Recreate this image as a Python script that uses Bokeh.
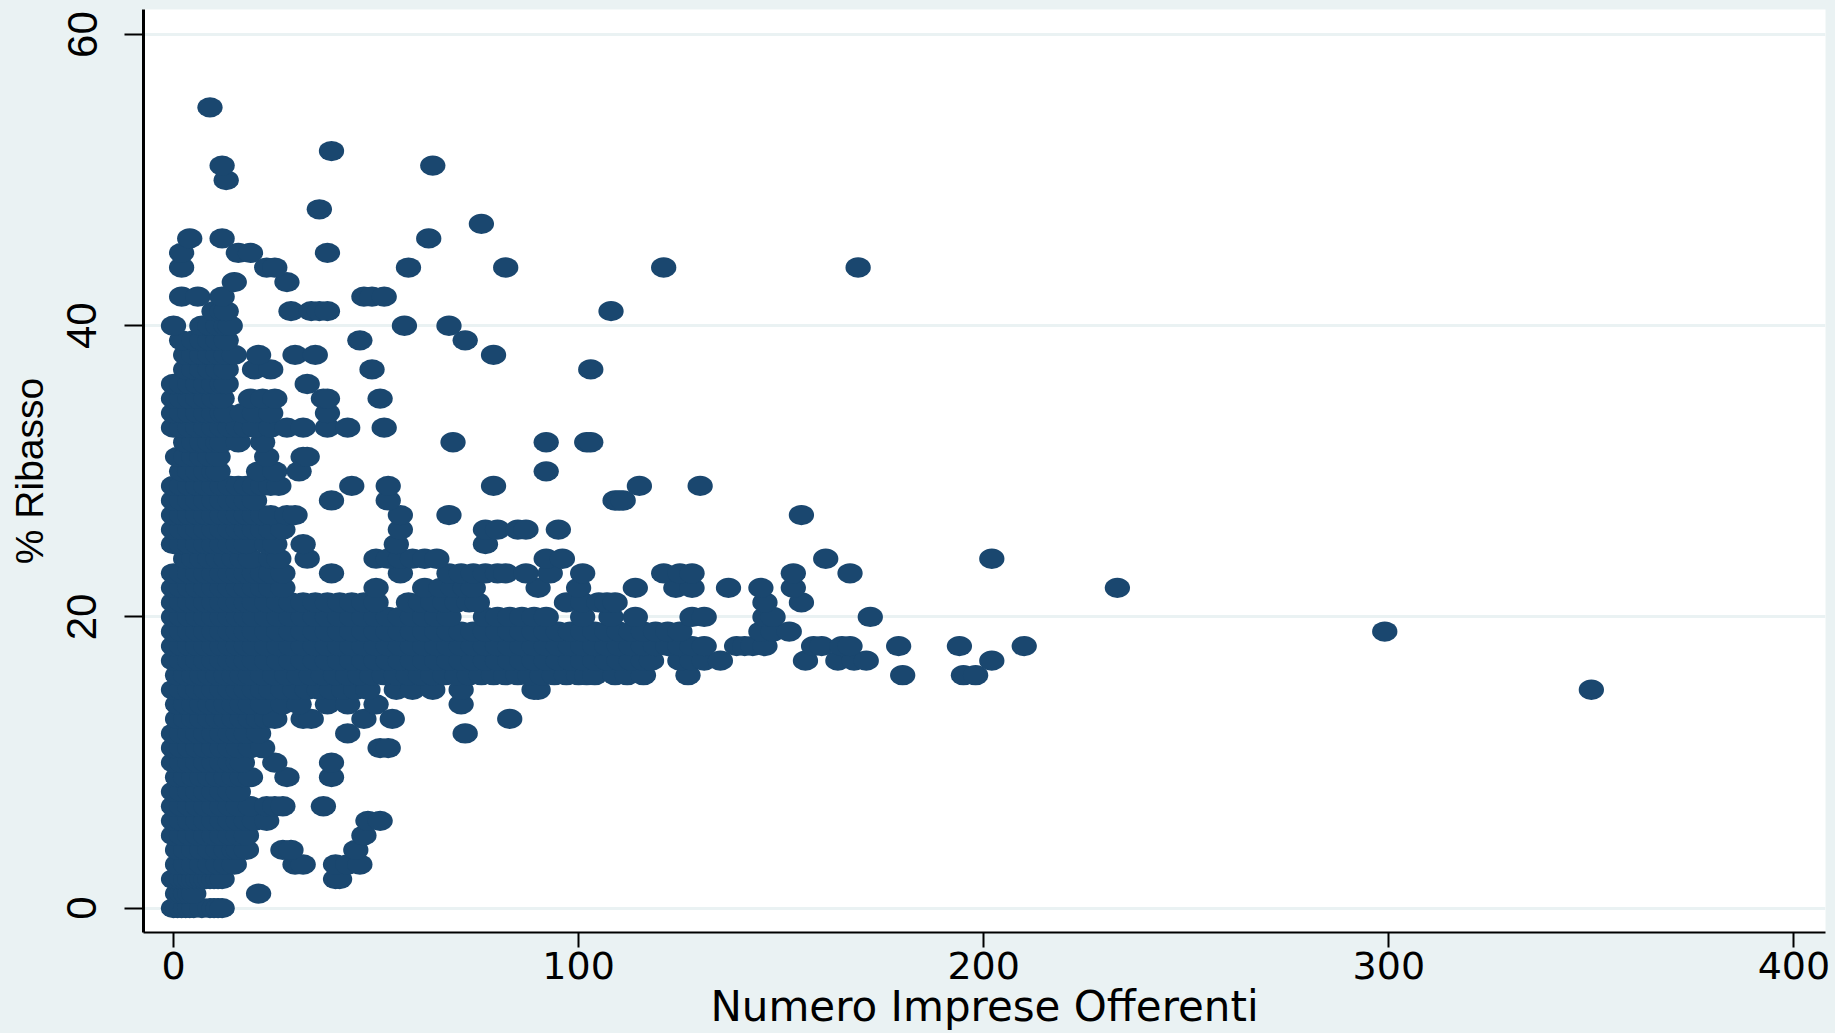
from bokeh.plotting import figure
from bokeh.models import FixedTicker, Range1d
from bokeh.embed import file_html
from bokeh.resources import INLINE

x_ticks = [0, 100, 200, 300, 400]
y_ticks = [0, 20, 40, 60]
x_label = "Numero Imprese Offerenti"
y_label = "% Ribasso"

# firms offering (x) at each whole-number discount level
r00 = [0, 1, 2, 3, 4, 5, 7, 9, 10, 11, 12]
r01 = [1, 2, 3, 4, 5, 21]
r02 = [0, 1, 2, 3, 4, 5, 6, 7, 8, 9, 10, 11, 12, 40, 41]
r03 = [1, 3, 5, 7, 9, 11, 13, 15, 30, 32, 40, 43, 46]
r04 = [1, 3, 5, 7, 9, 11, 13, 15, 16, 18, 27, 29, 45]
r05 = [0, 2, 4, 6, 8, 10, 12, 14, 16, 18, 47]
r06 = [0, 2, 4, 6, 8, 10, 12, 14, 16, 18, 20, 23, 48, 51]
r07 = [0, 2, 4, 6, 8, 10, 12, 14, 16, 19, 23, 25, 27, 37]
r08 = [0, 2, 4, 6, 8, 10, 12, 14, 16]
r09 = [1, 3, 5, 7, 9, 11, 13, 15, 17, 19, 28, 39]
r10 = [0, 2, 4, 6, 8, 10, 12, 14, 16, 17, 25, 39]
r11 = [0, 2, 4, 6, 8, 10, 12, 14, 16, 19, 22, 51, 53]
r12 = [0, 2, 4, 6, 8, 10, 12, 14, 16, 18, 21, 43, 72]
r13 = [1, 3, 5, 7, 9, 11, 13, 15, 17, 19, 21, 23, 25, 32, 34, 47, 54, 83]
r14 = [1, 3, 5, 7, 9, 11, 13, 15, 17, 19, 22, 27, 31, 38, 43, 50, 71]
r15 = [0, 2, 4, 6, 8, 10, 12, 14, 16, 18, 20, 22, 24, 27, 30, 33, 36, 39, 42, 45, 48, 55, 59, 64, 71, 89, 90, 350]
r16 = [1, 3, 5, 7, 9, 11, 13, 15, 17, 19, 22, 25, 28, 31, 34, 37, 40, 43, 46, 49, 52, 55, 58, 61, 64, 67, 70, 73, 76, 79, 82, 85, 88, 91, 94, 97, 100, 102, 104, 109, 112, 116, 127, 180, 195, 198]
r17 = [0, 2, 4, 6, 8, 10, 12, 14, 16, 18, 20, 23, 26, 29, 32, 35, 38, 41, 44, 47, 50, 53, 56, 59, 62, 65, 68, 71, 74, 77, 80, 83, 86, 89, 92, 95, 98, 101, 104, 107, 110, 113, 116, 118, 125, 128, 131, 135, 156, 164, 168, 171, 202]
r18 = [0, 2, 4, 6, 8, 10, 12, 14, 16, 18, 20, 23, 26, 29, 32, 35, 38, 41, 44, 47, 50, 53, 56, 59, 62, 65, 68, 71, 74, 77, 80, 83, 86, 89, 92, 95, 98, 101, 104, 107, 110, 113, 116, 119, 122, 125, 128, 131, 139, 141, 143, 146, 158, 160, 165, 167, 179, 194, 210]
r19 = [0, 2, 4, 6, 8, 10, 12, 14, 16, 18, 20, 23, 26, 29, 32, 35, 38, 41, 44, 47, 50, 53, 56, 59, 62, 65, 68, 71, 74, 77, 80, 83, 86, 89, 92, 95, 98, 101, 104, 107, 110, 113, 116, 119, 122, 125, 145, 148, 152, 299]
r20 = [0, 2, 4, 6, 8, 10, 12, 14, 16, 18, 20, 23, 26, 29, 32, 35, 38, 41, 44, 47, 50, 53, 56, 59, 62, 65, 68, 77, 80, 83, 86, 89, 92, 101, 108, 114, 128, 131, 146, 148, 172]
r21 = [0, 2, 4, 6, 8, 10, 12, 14, 16, 18, 20, 23, 26, 29, 32, 35, 38, 41, 44, 47, 50, 58, 61, 64, 67, 70, 73, 75, 97, 101, 105, 107, 109, 146, 155]
r22 = [0, 2, 4, 6, 8, 10, 12, 14, 16, 18, 20, 22, 24, 27, 50, 62, 66, 69, 72, 74, 90, 100, 114, 124, 128, 137, 145, 153, 233]
r23 = [0, 2, 4, 6, 8, 10, 12, 14, 16, 18, 20, 22, 24, 27, 39, 56, 68, 71, 74, 77, 80, 82, 87, 93, 101, 121, 125, 128, 153, 167]
r24 = [3, 5, 7, 9, 11, 13, 15, 17, 19, 24, 26, 33, 50, 53, 56, 59, 62, 65, 92, 96, 161, 202]
r25 = [0, 2, 4, 6, 8, 10, 12, 14, 16, 18, 23, 25, 32, 55, 77]
r26 = [0, 2, 4, 6, 8, 10, 12, 14, 16, 18, 20, 22, 24, 27, 56, 77, 80, 85, 87, 95]
r27 = [0, 2, 4, 6, 8, 10, 12, 14, 16, 18, 20, 22, 24, 28, 30, 56, 68, 155]
r28 = [0, 2, 4, 6, 8, 10, 12, 14, 16, 18, 20, 39, 53, 109, 110, 111]
r29 = [0, 2, 4, 6, 8, 10, 12, 14, 16, 18, 20, 22, 24, 26, 44, 53, 79, 115, 130]
r30 = [2, 4, 6, 8, 10, 11, 21, 25, 31, 92]
r31 = [1, 3, 5, 7, 9, 11, 23, 32, 33]
r32 = [3, 5, 7, 9, 11, 12, 16, 22, 69, 92, 102, 103]
r33 = [0, 2, 4, 6, 8, 10, 12, 14, 16, 18, 20, 24, 28, 32, 38, 43, 52]
r34 = [0, 2, 4, 6, 8, 10, 12, 13, 17, 20, 24, 38]
r35 = [0, 2, 4, 6, 8, 10, 12, 19, 22, 25, 37, 38, 51]
r36 = [0, 2, 4, 6, 8, 10, 12, 13, 33]
r37 = [3, 5, 7, 9, 11, 13, 20, 24, 49, 103]
r38 = [3, 5, 7, 9, 11, 13, 15, 21, 30, 35, 79]
r39 = [2, 5, 7, 9, 11, 13, 46, 72]
r40 = [0, 7, 9, 11, 13, 14, 57, 68]
r41 = [10, 12, 13, 29, 34, 36, 38, 108]
r42 = [2, 6, 12, 47, 49, 52]
r43 = [15, 28]
r44 = [2, 23, 25, 58, 82, 121, 169]
r45 = [2, 16, 19, 38]
r46 = [4, 12, 63]
r47 = [76]
r48 = [36]
r50 = [13]
r51 = [12, 64]
r52 = [39]
r55 = [9]

rows = {0: r00, 1: r01, 2: r02, 3: r03, 4: r04, 5: r05, 6: r06, 7: r07, 8: r08, 9: r09,
        10: r10, 11: r11, 12: r12, 13: r13, 14: r14, 15: r15, 16: r16, 17: r17, 18: r18, 19: r19,
        20: r20, 21: r21, 22: r22, 23: r23, 24: r24, 25: r25, 26: r26, 27: r27, 28: r28, 29: r29,
        30: r30, 31: r31, 32: r32, 33: r33, 34: r34, 35: r35, 36: r36, 37: r37, 38: r38, 39: r39,
        40: r40, 41: r41, 42: r42, 43: r43, 44: r44, 45: r45, 46: r46, 47: r47, 48: r48,
        50: r50, 51: r51, 52: r52, 55: r55}

imprese = [x for y, xs in rows.items() for x in xs]
ribasso = [y for y, xs in rows.items() for x in xs]

BG = "#eaf2f3"
NAVY = "#1a476f"

p = figure(width=1835, height=1033, output_backend="svg", toolbar_location=None,
           min_border_left=143, min_border_right=10, min_border_top=9, min_border_bottom=101,
           x_range=Range1d(-7.41, 407.8), y_range=Range1d(-1.67, 61.72),
           background_fill_color="white", border_fill_color=BG, outline_line_color=None)

p.ellipse(imprese, ribasso, width=25.3, height=20.3, width_units="screen", height_units="screen",
          fill_color=NAVY, line_color=None)

p.xgrid.visible = False
p.ygrid.ticker = FixedTicker(ticks=y_ticks)
p.ygrid.grid_line_color = BG
p.ygrid.grid_line_width = 3

xa, ya = p.xaxis[0], p.yaxis[0]
xa.ticker = FixedTicker(ticks=x_ticks)
ya.ticker = FixedTicker(ticks=y_ticks)
xa.minor_tick_line_color = None
ya.minor_tick_line_color = None
xa.major_tick_in = 0
ya.major_tick_in = 0
xa.major_tick_out = 15
ya.major_tick_out = 19
xa.major_tick_line_color = "black"
ya.major_tick_line_color = "black"
xa.major_tick_line_width = 2
ya.major_tick_line_width = 2
xa.axis_line_color = "black"
ya.axis_line_color = "black"
xa.axis_line_width = 2
ya.axis_line_width = 3

xa.axis_label = x_label
xa.axis_label_text_font = "DejaVu Sans"
xa.axis_label_text_font_size = "42px"
xa.axis_label_text_font_style = "normal"
xa.axis_label_text_color = "black"
xa.axis_label_standoff = 0

ya.axis_label = y_label
ya.axis_label_text_font = "Liberation Sans"
ya.axis_label_text_font_size = "39px"
ya.axis_label_text_font_style = "normal"
ya.axis_label_text_color = "black"
ya.axis_label_standoff = 14

xa.major_label_text_font = "DejaVu Sans"
xa.major_label_text_font_size = "38px"
xa.major_label_text_color = "black"
xa.major_label_standoff = 4
ya.major_label_text_font = "Liberation Sans"
ya.major_label_text_font_size = "42px"
ya.major_label_text_color = "black"
ya.major_label_orientation = "parallel"
ya.major_label_standoff = 28

html = file_html(p, INLINE)
html = html.replace("<body>", '<body style="margin:0;overflow:hidden;background:%s">' % BG)
open("out.html", "w").write(html)
